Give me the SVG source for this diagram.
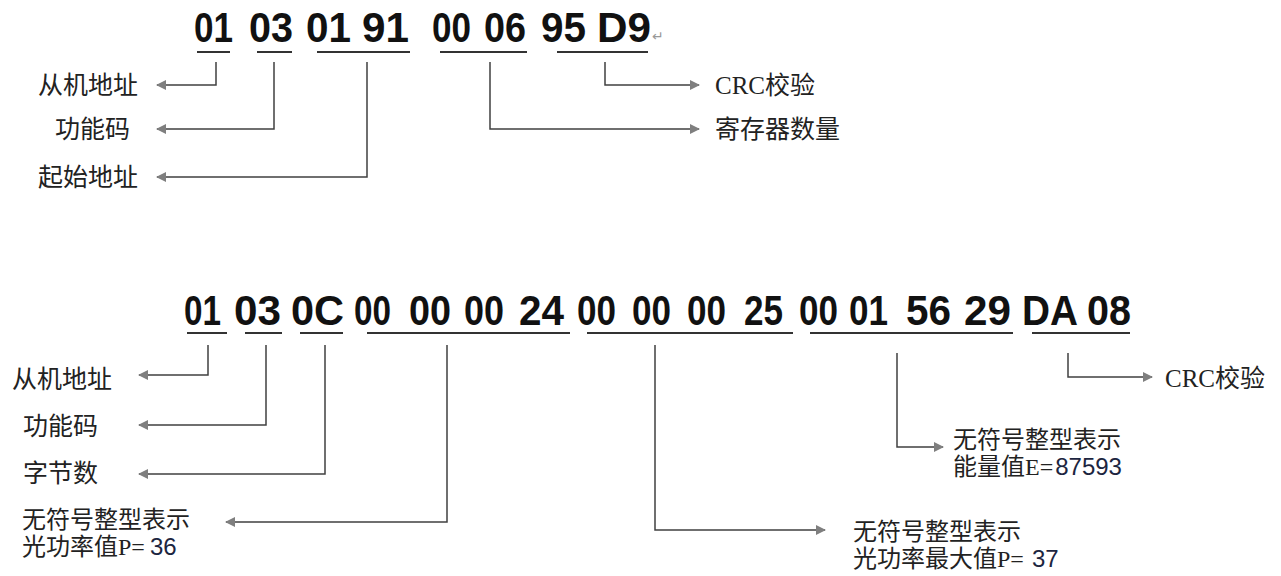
<svg xmlns="http://www.w3.org/2000/svg" width="1281" height="576" viewBox="0 0 1281 576">
<style>
.hex{font-family:"Liberation Sans",Arial,sans-serif;font-weight:bold;font-size:42px;fill:#111}
.ul{stroke:#333;stroke-width:2;fill:none}
.lbl{font-family:"Noto Sans CJK SC","Noto Sans",sans-serif;font-size:25px;fill:#222}
.lbl2{font-family:"Noto Sans CJK SC","Noto Sans",sans-serif;font-size:25px;fill:#222}
.lbl3{font-family:"Noto Sans CJK SC","Noto Sans",sans-serif;font-size:24px;fill:#222}
.ser{font-family:"Liberation Serif","Times New Roman",serif}
.num{font-family:"Liberation Sans",Arial,sans-serif;fill:#1c2540}
.con{stroke:#404040;stroke-width:1.5;fill:none;marker-end:url(#ah)}
</style>
<defs>
<marker id="ah" viewBox="0 0 10 10" refX="9" refY="5" markerWidth="10" markerHeight="10" markerUnits="userSpaceOnUse" orient="auto">
<path d="M0,0 L10,5 L0,10 z" fill="#7f7f7f"/>
</marker>
</defs>
<rect width="1281" height="576" fill="#fff"/>

<g id="frame1">
<text class="hex" x="194" y="42" textLength="39" lengthAdjust="spacingAndGlyphs">01</text>
<text class="hex" x="249" y="42" textLength="44" lengthAdjust="spacingAndGlyphs">03</text>
<text class="hex" x="306" y="42" textLength="45" lengthAdjust="spacingAndGlyphs">01</text>
<text class="hex" x="362" y="42" textLength="47" lengthAdjust="spacingAndGlyphs">91</text>
<text class="hex" x="432" y="42" textLength="39" lengthAdjust="spacingAndGlyphs">00</text>
<text class="hex" x="484" y="42" textLength="42" lengthAdjust="spacingAndGlyphs">06</text>
<text class="hex" x="541" y="42" textLength="45" lengthAdjust="spacingAndGlyphs">95</text>
<text class="hex" x="597" y="42" textLength="54" lengthAdjust="spacingAndGlyphs">D9</text>
<text x="652" y="41" font-family="DejaVu Sans,sans-serif" font-size="14" fill="#999">↵</text>
<path class="ul" d="M197,52H230M257,52H292M317,52H410M440,52H527M557,52H648"/>
</g>

<g id="labels1">
<text class="lbl" x="38" y="94">从机地址</text>
<text class="lbl" x="55" y="138">功能码</text>
<text class="lbl" x="38" y="186">起始地址</text>
<text class="lbl" x="715" y="94"><tspan class="ser">CRC</tspan>校验</text>
<text class="lbl" x="715" y="138">寄存器数量</text>
</g>

<g id="frame2">
<text class="hex" x="184" y="325" textLength="37" lengthAdjust="spacingAndGlyphs">01</text>
<text class="hex" x="234" y="325" textLength="47" lengthAdjust="spacingAndGlyphs">03</text>
<text class="hex" x="291" y="325" textLength="53" lengthAdjust="spacingAndGlyphs">0C</text>
<text class="hex" x="354" y="325" textLength="37" lengthAdjust="spacingAndGlyphs">00</text>
<text class="hex" x="409" y="325" textLength="42" lengthAdjust="spacingAndGlyphs">00</text>
<text class="hex" x="464" y="325" textLength="40" lengthAdjust="spacingAndGlyphs">00</text>
<text class="hex" x="519" y="325" textLength="45" lengthAdjust="spacingAndGlyphs">24</text>
<text class="hex" x="577" y="325" textLength="39" lengthAdjust="spacingAndGlyphs">00</text>
<text class="hex" x="632" y="325" textLength="39" lengthAdjust="spacingAndGlyphs">00</text>
<text class="hex" x="687" y="325" textLength="39" lengthAdjust="spacingAndGlyphs">00</text>
<text class="hex" x="744" y="325" textLength="39" lengthAdjust="spacingAndGlyphs">25</text>
<text class="hex" x="799" y="325" textLength="39" lengthAdjust="spacingAndGlyphs">00</text>
<text class="hex" x="849" y="325" textLength="39" lengthAdjust="spacingAndGlyphs">01</text>
<text class="hex" x="906" y="325" textLength="45" lengthAdjust="spacingAndGlyphs">56</text>
<text class="hex" x="964" y="325" textLength="47" lengthAdjust="spacingAndGlyphs">29</text>
<text class="hex" x="1022" y="325" textLength="56" lengthAdjust="spacingAndGlyphs">DA</text>
<text class="hex" x="1087" y="325" textLength="44" lengthAdjust="spacingAndGlyphs">08</text>
<path class="ul" d="M187,333H227M245,333H282M300,333H343M367,333H570M587,333H793M810,333H1013M1032,333H1130"/>
</g>

<g id="labels2">
<text class="lbl2" x="12" y="388">从机地址</text>
<text class="lbl2" x="23" y="435">功能码</text>
<text class="lbl2" x="23" y="482">字节数</text>
<text class="lbl3" x="22" y="528">无符号整型表示</text>
<text class="lbl3" x="22" y="555">光功率值<tspan class="ser">P=</tspan><tspan class="num" dx="5">36</tspan></text>
<text class="lbl3" x="853" y="540">无符号整型表示</text>
<text class="lbl3" x="853" y="567">光功率最大值<tspan class="ser">P=</tspan><tspan class="num" dx="8">37</tspan></text>
<text class="lbl3" x="953" y="448">无符号整型表示</text>
<text class="lbl3" x="953" y="475">能量值<tspan class="ser">E=</tspan><tspan class="num" dx="2">87593</tspan></text>
<text class="lbl2" x="1165" y="387"><tspan class="ser">CRC</tspan>校验</text>
</g>

<g id="connectors">
<path class="con" d="M216,62V85H157"/>
<path class="con" d="M274,62V129H157"/>
<path class="con" d="M367,62V177H157"/>
<path class="con" d="M490,62V129H699"/>
<path class="con" d="M605,62V85H699"/>
<path class="con" d="M208,345V375H139"/>
<path class="con" d="M266,345V425H139"/>
<path class="con" d="M325,345V474H139"/>
<path class="con" d="M447,345V522H226"/>
<path class="con" d="M655,345V530H825"/>
<path class="con" d="M897,353V447H943"/>
<path class="con" d="M1068,353V377H1152"/>
</g>
</svg>
